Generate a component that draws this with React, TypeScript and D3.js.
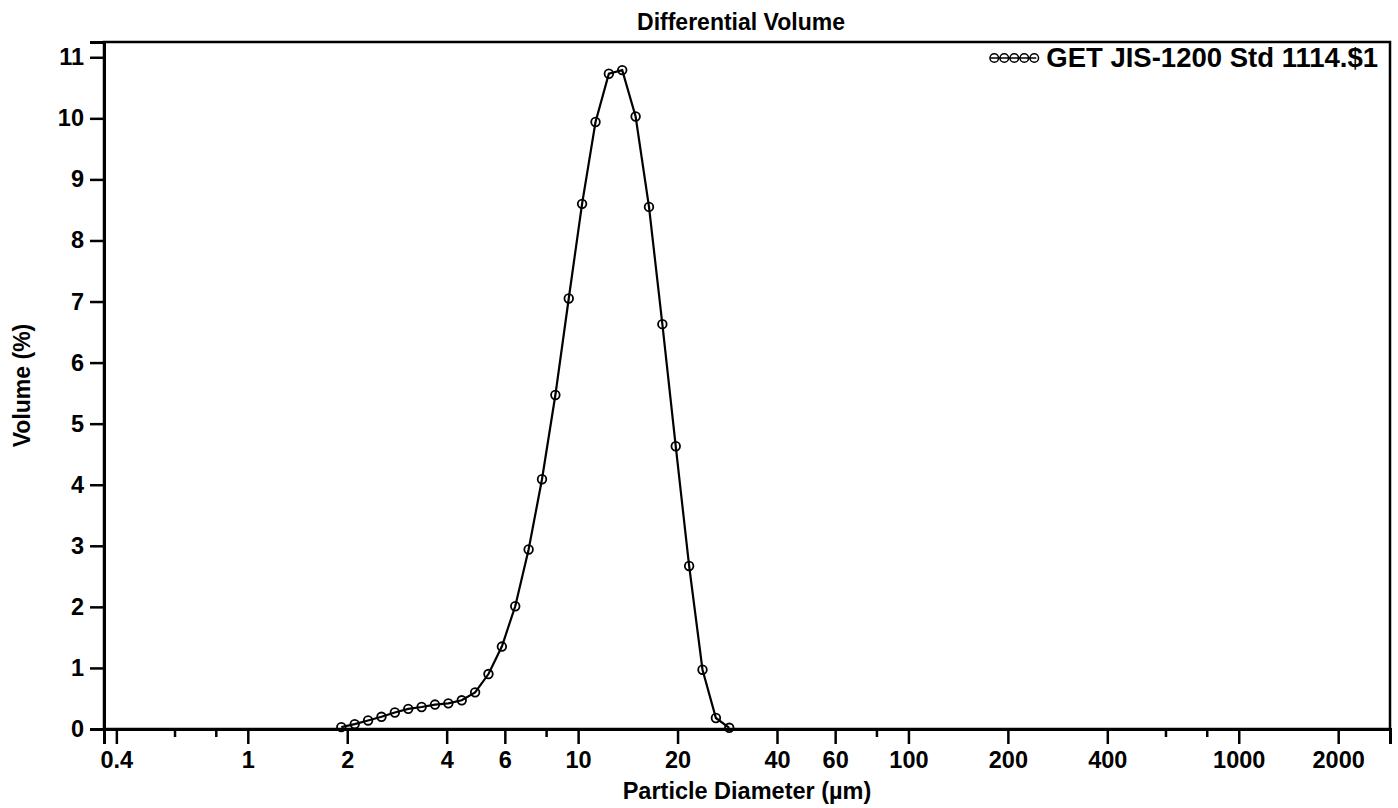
import React, { useEffect, useRef } from 'react';
import * as d3 from 'd3';

// Channel centre diameters (µm)
const diameters = [
  1.919, 2.107, 2.313, 2.539, 2.787, 3.06, 3.359, 3.687, 4.047, 4.443,
  4.877, 5.353, 5.877, 6.451, 7.082, 7.774, 8.534, 9.368, 10.28, 11.29,
  12.39, 13.6, 14.93, 16.39, 17.99, 19.75, 21.68, 23.8, 26.13, 28.68,
];
const volumes = [
  0.03, 0.08, 0.14, 0.2, 0.27, 0.33, 0.36, 0.4, 0.42, 0.47,
  0.6, 0.9, 1.35, 2.01, 2.94, 4.09, 5.47, 7.05, 8.6, 9.94,
  10.73, 10.79, 10.03, 8.55, 6.63, 4.63, 2.67, 0.97, 0.18, 0.02,
];

const xMajorTicks = [0.4, 1, 2, 4, 6, 10, 20, 40, 60, 100, 200, 400, 1000, 2000];
const xMinorTicks = [0.6, 0.8, 8, 80, 600, 800];
const yTicks = [0, 1, 2, 3, 4, 5, 6, 7, 8, 9, 10, 11];

const TITLE = 'Differential Volume';
const X_LABEL = 'Particle Diameter (µm)';
const Y_LABEL = 'Volume (%)';
const SERIES = 'GET JIS-1200 Std 1114.$1';

const W = 1398;
const H = 808;
const M = { top: 42, right: 8, bottom: 79, left: 104 };
const FONT = '"Liberation Sans", Arial, sans-serif';

export default function App() {
  const ref = useRef<SVGSVGElement>(null);

  useEffect(() => {
    if (!ref.current) return;
    const svg = d3.select(ref.current);
    svg.selectAll('*').remove();

    const iw = W - M.left - M.right;
    const ih = H - M.top - M.bottom;

    svg.append('rect').attr('width', W).attr('height', H).attr('fill', '#fff');

    const x = d3.scaleLog().domain([0.367, 2870]).range([0, iw]);
    const y = d3.scaleLinear().domain([0, 11.25]).range([ih, 0]);

    const g = svg.append('g').attr('transform', `translate(${M.left},${M.top})`);

    // frame
    g.append('rect').attr('width', iw).attr('height', ih)
      .attr('fill', 'none').attr('stroke', '#000').attr('stroke-width', 2.5);

    // y axis
    g.append('g')
      .call(d3.axisLeft(y).tickValues(yTicks).tickSize(14).tickPadding(6).tickFormat(d3.format('d')))
      .call(ax => ax.select('.domain').attr('stroke-width', 3))
      .call(ax => ax.selectAll('line').attr('stroke-width', 2.5))
      .call(ax => ax.selectAll('text').attr('font-family', FONT).attr('font-weight', 'bold')
        .attr('font-size', 23.5).attr('fill', '#000'));

    // x axis, major
    g.append('g').attr('transform', `translate(0,${ih})`)
      .call(d3.axisBottom(x).tickValues(xMajorTicks).tickSize(15).tickPadding(7)
        .tickFormat(d => String(d)))
      .call(ax => ax.select('.domain').attr('stroke-width', 3))
      .call(ax => ax.selectAll('line').attr('stroke-width', 2.5))
      .call(ax => ax.selectAll('text').attr('font-family', FONT).attr('font-weight', 'bold')
        .attr('font-size', 23.5).attr('fill', '#000'));

    // x axis, minor
    g.append('g').attr('transform', `translate(0,${ih})`)
      .call(d3.axisBottom(x).tickValues(xMinorTicks).tickSize(8).tickFormat(() => ''))
      .call(ax => ax.select('.domain').remove())
      .call(ax => ax.selectAll('line').attr('stroke-width', 2.5));

    // series line
    const pts = diameters.map((d, i) => [d, volumes[i]] as [number, number]);
    const line = d3.line<[number, number]>().x(d => x(d[0])).y(d => y(d[1]));
    g.append('path').datum(pts).attr('d', line)
      .attr('fill', 'none').attr('stroke', '#000').attr('stroke-width', 2.2);

    g.selectAll('circle.pt').data(pts).join('circle')
      .attr('class', 'pt')
      .attr('cx', d => x(d[0])).attr('cy', d => y(d[1])).attr('r', 4.3)
      .attr('fill', 'none').attr('stroke', '#000').attr('stroke-width', 1.8);

    // legend
    const lg = svg.append('g').attr('transform', `translate(${W - 20},67)`);
    const lt = lg.append('text').attr('text-anchor', 'end')
      .attr('font-family', FONT).attr('font-weight', 'bold').attr('font-size', 27.5)
      .text(SERIES);
    const tw = (lt.node() as SVGTextElement).getComputedTextLength();
    lg.append('line').attr('x1', -tw - 56).attr('x2', -tw - 10).attr('y1', -9).attr('y2', -9)
      .attr('stroke', '#000').attr('stroke-width', 1.4);
    [0, 1, 2, 3, 4].forEach(i => {
      lg.append('circle')
        .attr('cx', -tw - 12 - i * 10).attr('cy', -9).attr('r', 4.3)
        .attr('fill', 'none').attr('stroke', '#000').attr('stroke-width', 1.5);
    });

    // title & labels
    svg.append('text').attr('x', M.left + iw / 2 - 6).attr('y', 30).attr('text-anchor', 'middle')
      .attr('font-family', FONT).attr('font-weight', 'bold').attr('font-size', 23).text(TITLE);
    svg.append('text').attr('x', M.left + iw / 2).attr('y', 799).attr('text-anchor', 'middle')
      .attr('font-family', FONT).attr('font-weight', 'bold').attr('font-size', 23.5).text(X_LABEL);
    svg.append('text').attr('transform', `translate(30,${M.top + ih / 2}) rotate(-90)`)
      .attr('text-anchor', 'middle')
      .attr('font-family', FONT).attr('font-weight', 'bold').attr('font-size', 23).text(Y_LABEL);
  }, []);

  return (
    <svg ref={ref} width={W} height={H}
      style={{ position: 'absolute', left: 0, top: 0, display: 'block' }} />
  );
}
